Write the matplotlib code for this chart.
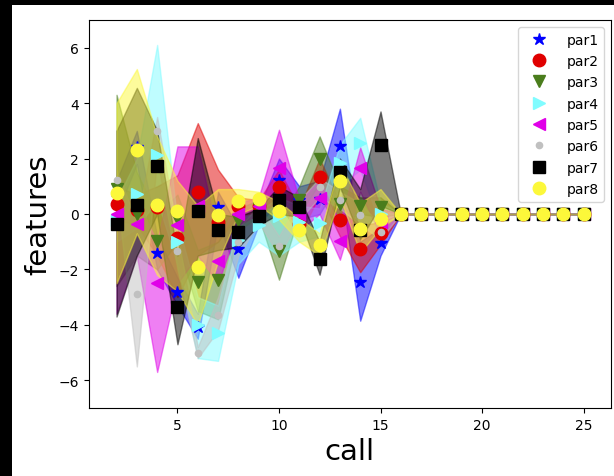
import matplotlib
matplotlib.use("Agg")
import matplotlib.pyplot as plt
from matplotlib.patches import Rectangle

# call index on the x axis
calls = list(range(2, 26))

# per-parameter feature values (markers) with lower / upper edges of the shaded band
par1_val = [0.6, 2.4, -1.39, -2.83, -4.06, 0.27, -1.26, -0.1, 1.24, 0.5, 0.55, 2.47, -2.47, -1.05,
            0, 0, 0, 0, 0, 0, 0, 0, 0, 0]
par1_lo = [0.0, 1.8, -2.0, -3.3, -4.5, -0.3, -2.3, -0.4, 0.5, -0.2, 0.0, 1.2, -3.85, -1.5,
           0, 0, 0, 0, 0, 0, 0, 0, 0, 0]
par1_hi = [1.2, 3.0, -0.8, -2.3, -3.6, 0.8, -0.5, 0.2, 2.0, 1.0, 1.2, 3.8, -1.0, -0.5,
           0, 0, 0, 0, 0, 0, 0, 0, 0, 0]

par2_val = [0.37, 0.15, 0.25, -0.88, 0.78, -0.3, 0.3, 0.3, 0.97, -0.35, 1.34, -0.2, -1.26, -0.67,
            0, 0, 0, 0, 0, 0, 0, 0, 0, 0]
par2_lo = [-0.2, -0.4, -1.5, -3.0, -1.5, -1.0, 0.0, 0.0, 0.4, -0.8, 0.7, -0.8, -2.1, -1.1,
           0, 0, 0, 0, 0, 0, 0, 0, 0, 0]
par2_hi = [1.0, 0.7, 1.0, 1.4, 3.28, 1.6, 0.6, 0.5, 1.6, 0.2, 2.0, 0.4, -0.4, -0.3,
           0, 0, 0, 0, 0, 0, 0, 0, 0, 0]

par3_val = [0.9, 0.0, -0.99, -0.15, -2.45, -2.37, -0.2, 0.2, -1.35, 0.5, 1.98, 0.37, 0.3, 0.25,
            0, 0, 0, 0, 0, 0, 0, 0, 0, 0]
par3_lo = [-2.6, -1.5, -2.0, -1.0, -3.5, -3.8, -0.6, -0.1, -2.37, 0.0, 1.1, -0.3, 0.0, -0.1,
           0, 0, 0, 0, 0, 0, 0, 0, 0, 0]
par3_hi = [4.3, 1.5, 0.0, 0.7, -1.3, -1.0, 0.2, 0.5, -0.2, 1.0, 2.8, 1.0, 0.6, 0.6,
           0, 0, 0, 0, 0, 0, 0, 0, 0, 0]

par4_val = [-0.2, 0.73, 2.14, -1.0, -4.0, -4.3, -0.93, -0.4, -0.09, -0.3, -0.33, 1.84, 2.56, 0.0,
            0, 0, 0, 0, 0, 0, 0, 0, 0, 0]
par4_lo = [-1.0, -0.5, 0.5, -1.8, -5.2, -5.3, -1.8, -1.0, -1.5, -1.0, -0.8, 1.0, 1.6, -0.4,
           0, 0, 0, 0, 0, 0, 0, 0, 0, 0]
par4_hi = [0.5, 2.0, 6.1, -0.3, -3.0, -3.3, -0.2, 0.1, 0.6, 0.3, 0.2, 2.5, 3.47, 0.4,
           0, 0, 0, 0, 0, 0, 0, 0, 0, 0]

par5_val = [0.0, -0.35, -2.5, -0.39, 0.3, -1.71, 0.01, 0.3, 1.66, 0.0, 0.58, -0.99, 1.66, -0.3,
            0, 0, 0, 0, 0, 0, 0, 0, 0, 0]
par5_lo = [-3.6, -1.5, -5.7, -2.5, -1.5, -2.5, -0.4, 0.0, 0.5, -0.6, 0.0, -1.65, 0.8, -0.8,
           0, 0, 0, 0, 0, 0, 0, 0, 0, 0]
par5_hi = [0.5, 0.5, -1.0, 2.44, 2.44, -0.8, 0.4, 0.6, 3.04, 0.5, 1.2, -0.3, 2.4, 0.2,
           0, 0, 0, 0, 0, 0, 0, 0, 0, 0]

par6_val = [1.21, -2.9, 2.98, -1.35, -5.02, -3.63, -1.02, 0.0, -1.17, 0.2, 0.97, 0.5, -0.03, -0.65,
            0, 0, 0, 0, 0, 0, 0, 0, 0, 0]
par6_lo = [0.8, -5.5, 2.0, -2.0, -5.2, -4.2, -1.5, -0.3, -1.5, -0.2, 0.6, 0.2, -0.4, -0.9,
           0, 0, 0, 0, 0, 0, 0, 0, 0, 0]
par6_hi = [1.6, -0.3, 3.5, -0.7, -4.8, -3.0, -0.5, 0.3, -0.8, 0.5, 1.3, 0.8, 0.4, -0.4,
           0, 0, 0, 0, 0, 0, 0, 0, 0, 0]

par7_val = [-0.35, 0.34, 1.72, -3.37, 0.12, -0.58, -0.65, -0.09, 0.52, 0.27, -1.63, 1.5, -0.57, 2.5,
            0, 0, 0, 0, 0, 0, 0, 0, 0, 0]
par7_lo = [-3.7, -1.5, 0.0, -4.7, -1.5, -1.3, -1.2, -0.4, 0.0, -0.1, -2.19, 1.0, -0.9, 0.3,
           0, 0, 0, 0, 0, 0, 0, 0, 0, 0]
par7_hi = [3.0, 4.55, 3.0, -1.5, 2.74, 0.0, -0.1, 0.2, 1.0, 0.6, -1.0, 2.0, 0.9, 3.7,
           0, 0, 0, 0, 0, 0, 0, 0, 0, 0]

par8_val = [0.76, 2.32, 0.31, 0.12, -1.93, -0.04, 0.46, 0.54, 0.12, -0.57, -1.11, 1.18, -0.54, -0.18,
            0, 0, 0, 0, 0, 0, 0, 0, 0, 0]
par8_lo = [-2.5, -0.7, -2.2, -2.8, -4.0, -1.7, 0.0, 0.3, -0.2, -1.0, -1.5, 0.6, -1.4, -0.5,
           0, 0, 0, 0, 0, 0, 0, 0, 0, 0]
par8_hi = [4.0, 5.23, 2.8, 1.2, 0.3, 0.9, 0.9, 0.8, 0.45, -0.15, -0.7, 1.8, 0.4, 0.9,
           0, 0, 0, 0, 0, 0, 0, 0, 0, 0]

names = ["par1", "par2", "par3", "par4", "par5", "par6", "par7", "par8"]
vals = [par1_val, par2_val, par3_val, par4_val, par5_val, par6_val, par7_val, par8_val]
los = [par1_lo, par2_lo, par3_lo, par4_lo, par5_lo, par6_lo, par7_lo, par8_lo]
his = [par1_hi, par2_hi, par3_hi, par4_hi, par5_hi, par6_hi, par7_hi, par8_hi]
colors = ["#0000ff", "#e00000", "#4a7d1c", "#80fcff", "#e000e8", "#c0c0c0", "#000000", "#fcf83a"]
markers = ["*", "o", "v", ">", "<", ".", "s", "o"]
sizes = [9, 9, 9, 9, 9, 9, 8.5, 9]

fig = plt.figure(figsize=(6.14, 4.77), dpi=100, facecolor="black")
fig.patches.append(Rectangle((12 / 614, 0), 1, (477 - 6) / 477,
                             transform=fig.transFigure, facecolor="white",
                             edgecolor="none", zorder=-1))
ax = fig.add_axes([88.5 / 614, 68 / 477, (611 - 88.5) / 614, (456 - 68) / 477])

for lo, hi, c in zip(los, his, colors):
    ax.fill_between(calls, lo, hi, color=c, alpha=0.5)

for name, v, c, mk, ms in zip(names, vals, colors, markers, sizes):
    ax.plot(calls, v, linestyle="none", marker=mk, color=c, markersize=ms, label=name)

ax.set_xlim(0.62, 26.35)
ax.set_ylim(-7, 7)
ax.set_yticks([-6, -4, -2, 0, 2, 4, 6])
ax.set_xticks([5, 10, 15, 20, 25])
ax.set_xlabel("call", fontsize=21)
ax.set_ylabel("features", fontsize=21)
ax.legend(loc="upper right", labelspacing=0.53, handlelength=2.3)

fig.savefig("out.png", dpi=100, facecolor=fig.get_facecolor())
